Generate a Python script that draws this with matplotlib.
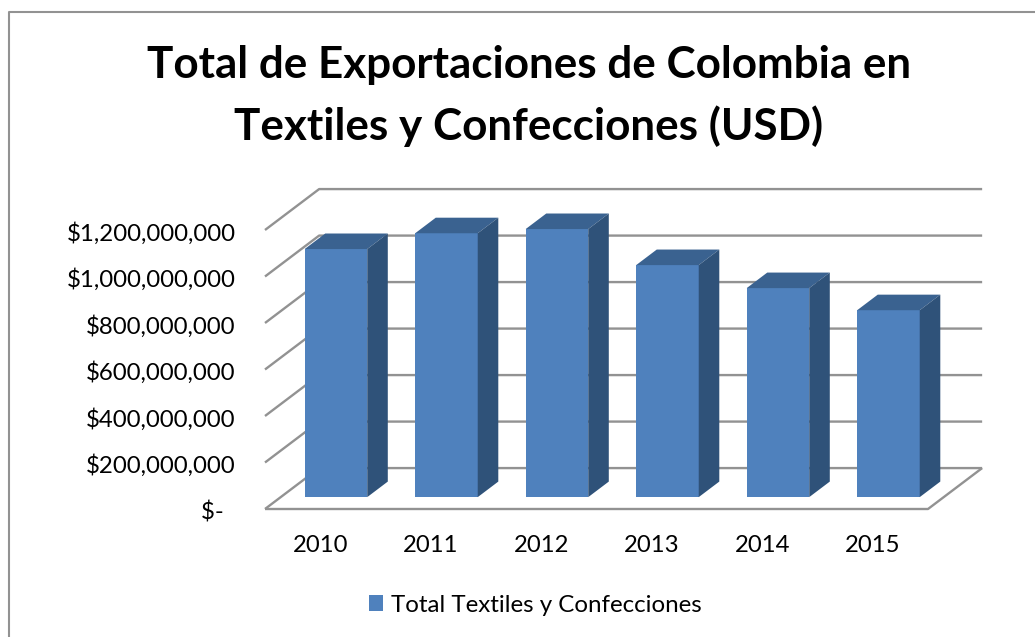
import matplotlib
matplotlib.use("Agg")
import matplotlib.pyplot as plt
from matplotlib.lines import Line2D
from matplotlib.patches import Patch, Polygon
from matplotlib.transforms import ScaledTranslation

# Values
years = ["2010", "2011", "2012", "2013", "2014", "2015"]
exports = [1067e6, 1135e6, 1153e6, 998e6, 899e6, 804e6]
y_ticks = [0, 200e6, 400e6, 600e6, 800e6, 1000e6, 1200e6]
y_labels = ["$-  ", "$200,000,000", "$400,000,000", "$600,000,000",
            "$800,000,000", "$1,000,000,000", "$1,200,000,000"]
title = "Total de Exportaciones de Colombia en\nTextiles y Confecciones (USD)"
series_name = "Total Textiles y Confecciones"

W, H = 1035, 637
FRONT, TOP, SIDE = "#4F81BD", "#3A6290", "#2F5279"
GRID = "#929292"

# fake 3D: floor depth as an offset in data units
DEPTH_X = 0.49
DEPTH_Y = 176e6
BAR_START = 0.29   # where the bar front sits inside the floor depth
BAR_DEPTH = 0.38
BAR_WIDTH = 0.566

plt.rcParams["font.family"] = ["Lato", "DejaVu Sans"]

fig = plt.figure(figsize=(W / 100, H / 100), dpi=100)
ax = fig.add_axes([265 / W, 1 - 509 / H, 663 / W, 279 / H])
ax.patch.set_alpha(0)
ax.set_xlim(0, len(years))
ax.set_ylim(0, 1200e6)
for s in ax.spines.values():
    s.set_visible(False)


def wall_line(xs, ys):
    ax.plot(xs, ys, color=GRID, lw=1.7, clip_on=False, zorder=1,
            solid_capstyle="butt")


# walls and gridlines
n = len(years)
for v in y_ticks:
    wall_line([0, DEPTH_X, n + DEPTH_X], [v, v + DEPTH_Y, v + DEPTH_Y])
wall_line([0, n, n + DEPTH_X], [0, 0, DEPTH_Y])

# bars: front, top and side faces
for i, val in enumerate(exports):
    x0 = i + 0.5 - BAR_WIDTH / 2 + BAR_START * DEPTH_X
    x1 = x0 + BAR_WIDTH
    y0 = BAR_START * DEPTH_Y
    y1 = y0 + val
    dx = BAR_DEPTH * DEPTH_X
    dy = BAR_DEPTH * DEPTH_Y
    ax.add_patch(Polygon([(x0, y0), (x1, y0), (x1, y1), (x0, y1)],
                         fc=FRONT, ec="none", clip_on=False, zorder=3))
    ax.add_patch(Polygon([(x0, y1), (x1, y1), (x1 + dx, y1 + dy), (x0 + dx, y1 + dy)],
                         fc=TOP, ec="none", clip_on=False, zorder=3))
    ax.add_patch(Polygon([(x1, y0), (x1 + dx, y0 + dy), (x1 + dx, y1 + dy), (x1, y1)],
                         fc=SIDE, ec="none", clip_on=False, zorder=3))

ax.set_xticks([i + 0.5 for i in range(n)])
ax.set_xticklabels(years, fontsize=17.2)
ax.set_yticks(y_ticks)
ax.set_yticklabels(y_labels, fontsize=17.3)
ax.tick_params(axis="x", length=0, pad=19)
ax.tick_params(axis="y", length=0, pad=21)

# y labels sit a little below their gridline start
nudge = ScaledTranslation(0, -1.5 / 100, fig.dpi_scale_trans)
for lab in ax.get_yticklabels():
    lab.set_transform(lab.get_transform() + nudge)

fig.text(529 / W, 1 - 96 / H, title, ha="center", va="center",
         fontsize=31.7, fontweight="bold", linespacing=1.58)

fig.legend(handles=[Patch(fc=FRONT, ec="none", label=series_name)],
           loc="center", bbox_to_anchor=(535 / W, 1 - 605 / H), frameon=False,
           fontsize=17.4, handlelength=0.62, handleheight=0.62, handletextpad=0.3)

# chart area border, only left and top are inside the crop
fig.add_artist(Line2D([9 / W, 9 / W, 1], [0, 1 - 11.5 / H, 1 - 11.5 / H],
                      color=GRID, lw=1.5))

fig.savefig("out.png", dpi=100)
